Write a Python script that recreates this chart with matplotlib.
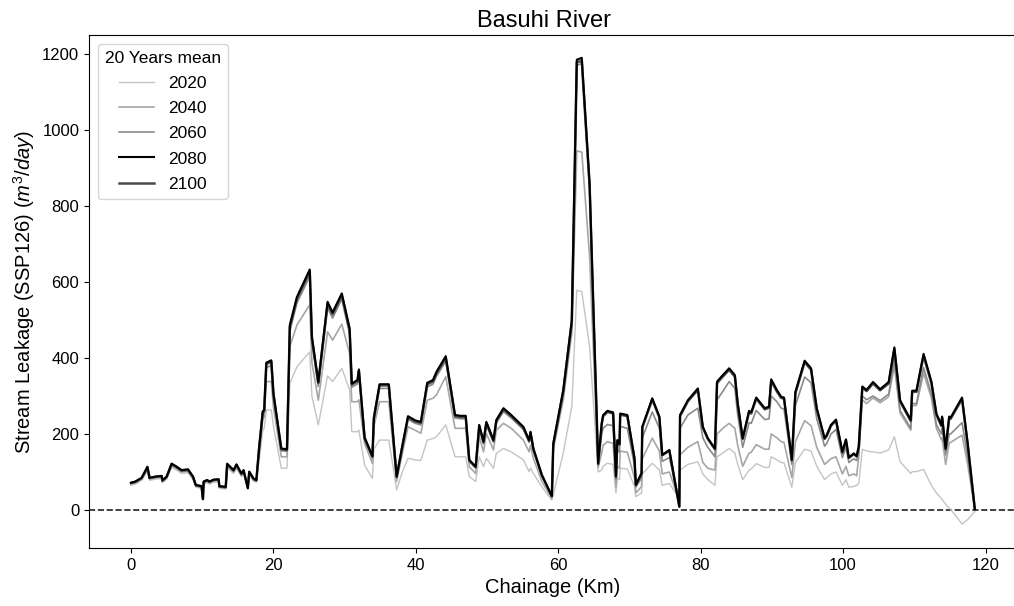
import matplotlib
matplotlib.use("Agg")
import matplotlib.pyplot as plt

plt.rcParams["font.family"] = ["Liberation Sans", "DejaVu Sans"]
plt.rcParams["mathtext.fontset"] = "custom"
plt.rcParams["mathtext.rm"] = "Liberation Sans"
plt.rcParams["mathtext.it"] = "Liberation Sans:italic"

# Chainage along the river (km)
chainage = [
    0.0, 0.6, 1.5, 2.3, 2.6, 3.4, 4.3, 4.4, 5.0, 5.7, 6.4, 7.1, 8.0, 8.7, 9.1, 9.9, 10.1, 10.2, 10.7, 11.0,
    11.6, 12.3, 12.4, 13.3, 13.5, 14.4, 14.8, 15.5, 15.8, 16.4, 16.6, 17.2, 17.6,
    18.0, 18.5, 18.7, 19.0, 19.7, 20.0, 21.1, 21.9, 22.3, 23.3, 25.1, 25.4, 26.3, 27.6, 28.3, 29.6, 30.7,
    31.0, 31.8, 32.0, 32.8, 33.9, 34.1, 34.9, 36.2, 37.3, 38.1, 38.9, 39.9, 40.7, 41.6, 42.4, 42.9, 44.2,
    45.5, 46.3, 47.0, 47.5, 48.4, 48.9, 49.5, 49.9, 50.9, 51.3, 52.3, 53.4, 55.1, 55.9, 56.1, 56.5, 57.7, 59.1,
    59.3, 60.7, 61.9, 62.6, 63.3, 64.4, 65.6,
    66.1, 66.3, 66.9, 67.7, 68.1, 68.3, 68.6, 68.7, 69.7, 70.7, 70.9, 71.7, 71.8, 73.2, 74.2, 74.6, 75.6,
    77.0, 77.1, 78.2, 79.6, 80.3, 81.0, 82.0, 82.3, 83.1, 84.0, 84.8, 85.2, 85.9, 86.8, 87.1, 87.8, 89.0,
    89.6, 89.9, 90.7, 91.3, 91.7, 92.8, 93.3, 94.6, 95.5, 96.3, 97.4, 97.7, 98.3, 99.0, 99.9, 100.4, 100.8,
    101.5, 101.9, 102.2, 102.7, 103.3, 104.2, 105.2, 106.4, 107.2, 108.0, 109.5, 109.7, 110.3, 111.3, 112.4,
    113.1, 113.8, 113.9, 114.4, 114.9, 115.1, 116.7, 117.5, 118.5,
]

# 20-year mean stream leakage (m3/day), SSP126
leak_2020 = [
    65, 68, 78, 104, 78, 81, 83, 72, 81, 112, 105, 96, 98, 80, 60, 57, 55, 68, 72, 68,
    73, 74, 57, 55, 111, 96, 110, 88, 95, 62, 92, 76, 73,
    130, 210, 215, 263, 263, 220, 110, 110, 333, 377, 416, 300, 224, 353, 338, 373, 316,
    206, 206, 210, 118, 83, 160, 184, 184, 53, 100, 136, 132, 130, 184, 188, 193, 224,
    140, 140, 140, 88, 75, 140, 114, 136, 110, 149, 162, 153, 132, 101, 110, 96, 61, 26,
    40, 150, 272, 578, 575, 430, 100,
    105, 115, 123, 120, 45, 85, 80, 110, 108, 62, 35, 45, 95, 123, 105, 65, 70,
    30, 105, 120, 127, 95, 80, 65, 140, 150, 162, 150, 120, 80, 105, 108, 122, 112,
    112, 140, 132, 125, 124, 60, 125, 160, 155, 115, 80, 85, 95, 100, 65, 80, 60,
    62, 65, 70, 160, 155, 153, 150, 158, 193, 127, 96, 101, 101, 107, 65,
    45, 30, 28, 15, 5, 2, -37, -25, -4,
]
leak_2040 = [
    69, 72, 82, 108, 82, 85, 86, 75, 85, 117, 109, 100, 102, 84, 63, 60, 52, 72, 76, 72,
    77, 78, 60, 58, 116, 100, 114, 91, 99, 63, 96, 79, 76,
    150, 240, 245, 338, 338, 270, 140, 140, 430, 487, 540, 388, 289, 469, 447, 489, 412,
    285, 285, 290, 175, 123, 219, 285, 285, 75, 149, 219, 210, 202, 289, 294, 303, 351,
    215, 215, 215, 114, 96, 193, 153, 202, 158, 210, 228, 215, 184, 153, 170, 136, 75, 30,
    160, 290, 466, 945, 942, 667, 112,
    150, 170, 180, 175, 60, 115, 110, 155, 152, 85, 45, 62, 135, 189, 155, 95, 100,
    25, 145, 165, 180, 125, 110, 105, 200, 215, 228, 215, 170, 115, 150, 152, 172, 160,
    160, 200, 190, 180, 178, 85, 180, 235, 222, 165, 120, 125, 135, 140, 95, 115, 90,
    95, 90, 140, 290, 280, 295, 282, 298, 380, 255, 210, 275, 275, 360, 295,
    215, 185, 190, 120, 176, 178, 197, 120, 1,
]
leak_2060 = [
    70, 73, 83, 110, 83, 86, 88, 76, 86, 119, 111, 102, 104, 86, 64, 61, 50, 73, 77, 73,
    78, 79, 61, 59, 118, 102, 116, 93, 101, 62, 98, 80, 77,
    160, 250, 255, 375, 380, 298, 156, 154, 470, 545, 615, 440, 325, 532, 505, 555, 462,
    323, 332, 358, 185, 137, 235, 320, 320, 85, 163, 239, 228, 224, 324, 331, 352, 392,
    242, 240, 240, 128, 110, 217, 174, 224, 178, 229, 259, 242, 212, 178, 199, 157, 89, 36,
    168, 305, 485, 1170, 1175, 845, 118,
    200, 215, 225, 222, 80, 160, 152, 220, 215, 118, 60, 85, 190, 258, 215, 128, 138,
    20, 215, 250, 268, 190, 165, 140, 290, 312, 338, 320, 250, 165, 230, 228, 262, 238,
    240, 300, 285, 268, 266, 120, 275, 350, 335, 240, 168, 175, 200, 212, 138, 165, 125,
    135, 130, 150, 300, 290, 300, 288, 305, 395, 262, 215, 280, 280, 375, 305,
    225, 200, 215, 145, 200, 200, 230, 140, 1,
]
leak_2080 = [
    72, 75, 85, 114, 85, 88, 90, 78, 88, 122, 114, 105, 107, 88, 66, 63, 28, 75, 79, 75,
    80, 81, 63, 61, 122, 105, 120, 96, 105, 57, 101, 83, 79,
    167, 260, 263, 388, 394, 307, 162, 160, 487, 561, 633, 456, 337, 548, 520, 570, 478,
    333, 342, 370, 191, 142, 243, 331, 331, 88, 169, 247, 236, 232, 335, 342, 364, 405,
    250, 248, 248, 132, 114, 224, 180, 232, 184, 237, 268, 250, 219, 184, 206, 162, 92, 37,
    175, 316, 500, 1185, 1190, 860, 123,
    228, 250, 261, 257, 88, 184, 174, 254, 250, 136, 66, 97, 219, 294, 246, 145, 158,
    9, 250, 289, 320, 219, 189, 162, 338, 355, 373, 355, 281, 189, 261, 257, 296, 268,
    272, 344, 316, 298, 296, 132, 311, 393, 373, 268, 189, 197, 224, 238, 153, 186, 138,
    149, 142, 167, 325, 316, 337, 318, 337, 428, 289, 237, 314, 314, 411, 338,
    254, 224, 246, 162, 246, 243, 296, 175, 2,
]
leak_2100 = [
    71, 74, 84, 112, 84, 87, 89, 77, 87, 121, 113, 104, 106, 87, 65, 62, 30, 74, 78, 74,
    79, 80, 62, 60, 120, 104, 119, 95, 104, 58, 100, 82, 78,
    165, 257, 260, 384, 390, 304, 160, 158, 482, 556, 627, 452, 334, 543, 515, 565, 473,
    330, 339, 366, 189, 140, 240, 328, 328, 87, 167, 244, 233, 229, 331, 338, 360, 400,
    247, 245, 245, 130, 113, 221, 178, 229, 182, 234, 265, 247, 216, 182, 203, 160, 91, 36,
    173, 312, 494, 1178, 1182, 852, 121,
    226, 247, 258, 254, 88, 182, 172, 251, 247, 135, 66, 96, 217, 291, 243, 144, 156,
    9, 247, 286, 316, 217, 187, 160, 334, 351, 369, 351, 278, 187, 258, 254, 293, 265,
    269, 340, 312, 295, 293, 131, 307, 389, 369, 265, 187, 195, 222, 235, 151, 184, 137,
    147, 141, 165, 322, 313, 333, 315, 333, 423, 286, 234, 311, 311, 406, 334,
    251, 221, 243, 160, 243, 240, 292, 172, 2,
]

years = ["2020", "2040", "2060", "2080", "2100"]
series = [leak_2020, leak_2040, leak_2060, leak_2080, leak_2100]
colors = ["#c4c4c4", "#a6a6a6", "#8a8a8a", "#000000", "#4a4a4a"]
widths = [1.0, 1.2, 1.2, 1.5, 1.8]
zorders = [2.0, 2.1, 2.2, 2.4, 2.3]

fig = plt.figure(figsize=(10.14, 6.06), dpi=100)
ax = fig.add_axes([0.0878, 0.0957, 0.915, 0.8465])

for yr, vals, c, lw, z in zip(years, series, colors, widths, zorders):
    ax.plot(chainage, vals, color=c, lw=lw, label=yr, zorder=z)

ax.axhline(0, color="#222222", ls="--", lw=1.2, zorder=1.5)

ax.set_xlim(-5.9, 124.4)
ax.set_ylim(-100, 1250)
ax.set_xticks([0, 20, 40, 60, 80, 100, 120])
ax.set_yticks([0, 200, 400, 600, 800, 1000, 1200])
ax.tick_params(labelsize=12)
ax.set_xlabel("Chainage (Km)", fontsize=14.5)
ax.set_ylabel("Stream Leakage (SSP126) ($m^3/day$)", fontsize=14.5)
ax.set_title("Basuhi River", fontsize=17, x=0.49)

leg = ax.legend(title="20 Years mean", loc="upper left", fontsize=12.5,
                title_fontsize=12.5, frameon=True, labelspacing=0.58)

fig.savefig("out.png", dpi=100)
